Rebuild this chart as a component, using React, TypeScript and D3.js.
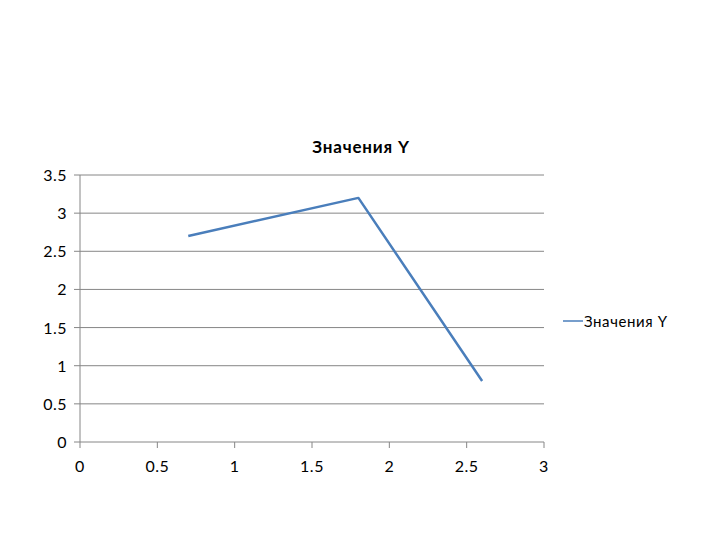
import React from "react";
import * as d3 from "d3";

const xValues = [0.7, 1.8, 2.6];
const yValues = [2.7, 3.2, 0.8];
const xTicks = [0, 0.5, 1, 1.5, 2, 2.5, 3];
const yTicks = [0, 0.5, 1, 1.5, 2, 2.5, 3, 3.5];
const seriesName = "Значения Y";
const chartTitle = "Значения Y";

export default function App() {
  const W = 720, H = 540;
  const x = d3.scaleLinear().domain([0, 3]).range([80, 544]);
  const y = d3.scaleLinear().domain([0, 3.5]).range([442, 175]);
  const pts = xValues.map((v, i) => [v, yValues[i]] as [number, number]);
  const line = d3.line<[number, number]>().x(d => x(d[0])).y(d => y(d[1]));
  const font = "Lato, 'Open Sans', sans-serif";
  return (
    <svg width={W} height={H} style={{ position: "absolute", left: 0, top: 0, background: "#fff" }}>
      <text x={361} y={153} textAnchor="middle" fontFamily={font} fontWeight="bold" fontSize={17} letterSpacing={0.8} fill="#000">{chartTitle}</text>
      {yTicks.map(t => (
        <g key={"y" + t}>
          {t > 0 && <line x1={80} x2={544} y1={y(t)} y2={y(t)} stroke="#868686" strokeWidth={1} />}
          <line x1={74} x2={80} y1={y(t)} y2={y(t)} stroke="#868686" strokeWidth={1} />
          <text x={67} y={y(t) + 6} textAnchor="end" fontFamily={font} fontSize={16} letterSpacing={0.5} fill="#000">{t}</text>
        </g>
      ))}
      <line x1={80} x2={80} y1={175} y2={442} stroke="#868686" strokeWidth={1} />
      <line x1={80} x2={544} y1={442} y2={442} stroke="#868686" strokeWidth={1} />
      {xTicks.map(t => (
        <g key={"x" + t}>
          <line x1={x(t)} x2={x(t)} y1={442} y2={448} stroke="#868686" strokeWidth={1} />
          <text x={x(t)} y={472} textAnchor="middle" fontFamily={font} fontSize={16} letterSpacing={0.5} fill="#000">{t}</text>
        </g>
      ))}
      <path d={line(pts) || ""} fill="none" stroke="#4a7ebb" strokeWidth={2.5} strokeLinejoin="round" />
      <line x1={563} x2={583} y1={321} y2={321} stroke="#4a7ebb" strokeWidth={1.5} />
      <text x={584} y={327} fontFamily={font} fontSize={15} letterSpacing={0.6} fill="#000">{seriesName}</text>
    </svg>
  );
}
